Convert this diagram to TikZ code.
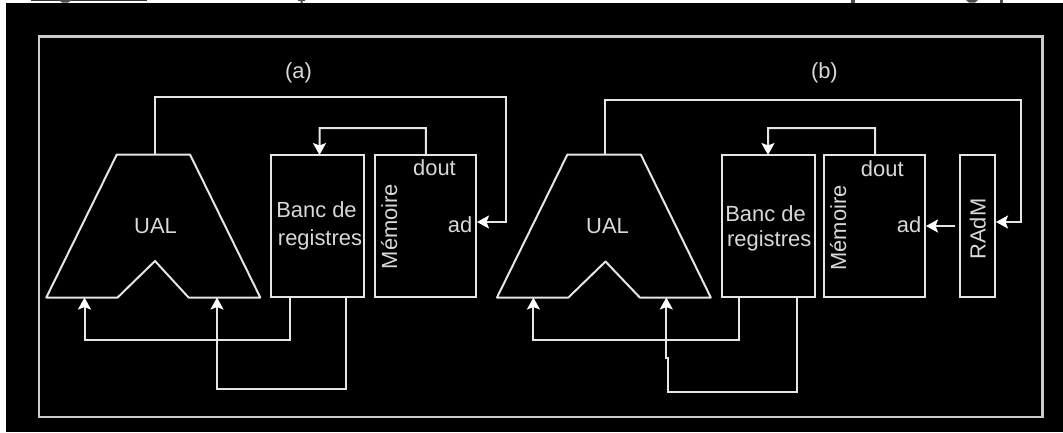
\documentclass[tikz,border=0pt]{standalone}
\usepackage{fontspec}
\setmainfont{Liberation Sans}
\usetikzlibrary{arrows.meta}
\definecolor{linegray}{gray}{0.9}
\definecolor{framegray}{gray}{0.8}
\definecolor{textgray}{gray}{0.85}
\tikzset{
  x=1bp,y=-1bp,
  wire/.style={draw=linegray,line width=2bp,line join=miter},
  arrowwire/.style={wire,-{Stealth[length=12bp,width=13bp,inset=2.5bp,fill=white,color=white]}},
  blockbox/.style={draw=linegray,line width=2bp,inner sep=0pt,outer sep=0pt,minimum height=142bp},
  lab/.style={text=textgray,inner sep=0pt,outer sep=0pt,anchor=base,font=\fontsize{22}{26}\selectfont},
  vlab/.style={lab,rotate=90},
}
\begin{document}
\begin{tikzpicture}
\useasboundingbox (0,0) rectangle (1063,432);
\fill[white] (0,0) rectangle (1063,432);
\fill[black] (6,3) rectangle (1063,432);
% cropped remains of the text line above
\fill[black!80] (31,0) rectangle (147,1);
\fill[black!70] (59,0) -- (72,0) -- (68,2.6) -- (62,2.6) -- cycle;
\fill[black!70] (298,0) rectangle (305,0.8) (300.5,0) rectangle (302.5,3);
\fill[black!70] (851,0) rectangle (854.5,3);
\fill[black!70] (966,0) -- (978,0) -- (975,2.6) -- (969,2.6) -- cycle;
\fill[black!70] (999.5,0) rectangle (1003,3);
% frame
\draw[draw=framegray,line width=2.2bp] (39,36.5) rectangle (1042.5,417);

% --- panel (a)
\node[lab] (capa) at (298.5,78) {(a)};
\coordinate (ualatop) at (155,154.5);
\coordinate (ualain1) at (84.5,297.5);
\coordinate (ualain2) at (217,297.5);
\draw[wire,line join=round] (116.8,154.5) -- (190,154.5) -- (260.3,297.5) -- (188.6,297.5) -- (155,261) -- (117.6,297.5) -- (46.3,297.5) -- cycle;
\node[lab] (uala) at (155.5,233.5) {UAL};
\node[blockbox,minimum width=93bp] (rega) at (317.5,226) {};
\node[blockbox,minimum width=100.7bp] (mema) at (425.7,226) {};
\node[lab] (banca) at (316.5,217.7) {Banc de};
\node[lab] (regsa) at (320,245) {registres};
\node[lab] (douta) at (434.5,175) {dout};
\node[lab] (ada) at (460,232.7) {ad};
\node[vlab] (mema-t) at (397,226.5) {Mémoire};
\coordinate (ada-in) at (477,222);
\draw[arrowwire] (ualatop) |- (506,97.4) |- (ada-in);
\draw[arrowwire] ([xshift=50.5bp]mema.north west) |- (319.5,128) -- ([xshift=48.5bp]rega.north west);
\draw[arrowwire] ([xshift=18.7bp]rega.south west) |- (ualain1 |- 0,340) -- (ualain1);
\draw[arrowwire] ([xshift=74.5bp]rega.south west) |- (ualain2 |- 0,389) -- (ualain2);

% --- panel (b)
\node[lab] (capb) at (824.4,78) {(b)};
\coordinate (ualbtop) at (604.5,154.5);
\coordinate (ualbin1) at (533.4,297.5);
\coordinate (ualbin2) at (666.3,297.5);
\draw[wire,line join=round] (567.4,154.5) -- (640.8,154.5) -- (710.8,297.5) -- (639.8,297.5) -- (605.5,261.5) -- (568.4,297.5) -- (497,297.5) -- cycle;
\node[lab] (ualb) at (607.5,233.5) {UAL};
\node[blockbox,minimum width=93bp] (regb) at (768.5,226) {};
\node[blockbox,minimum width=101bp] (memb) at (874.5,226) {};
\node[blockbox,minimum width=35.3bp] (radm) at (977.7,226) {};
\node[lab] (bancb) at (765.5,221) {Banc de};
\node[lab] (regsb) at (769.2,246.7) {registres};
\node[lab] (doutb) at (882.3,176.7) {dout};
\node[lab] (adb) at (909,232.7) {ad};
\node[vlab] (memb-t) at (846,228) {Mémoire};
\node[vlab] (radm-t) at (985.7,229) {RAdM};
\coordinate (radm-in) at (996,222);
\coordinate (adb-out) at (955,226);
\coordinate (adb-in) at (926,226);
\draw[arrowwire] (ualbtop) |- (1021,99.5) |- (radm-in);
\draw[arrowwire] (adb-out) -- (adb-in);
\draw[arrowwire] ([xshift=51bp]memb.north west) |- (768,128) -- ([xshift=46bp]regb.north west);
\draw[arrowwire] ([xshift=16.7bp]regb.south west) |- (ualbin1 |- 0,340) -- (ualbin1);
\draw[arrowwire] ([xshift=74.8bp]regb.south west) |- (668,391.7) -- (668,357.7) -- (666.3,357.7) -- (ualbin2);
\end{tikzpicture}
\end{document}
